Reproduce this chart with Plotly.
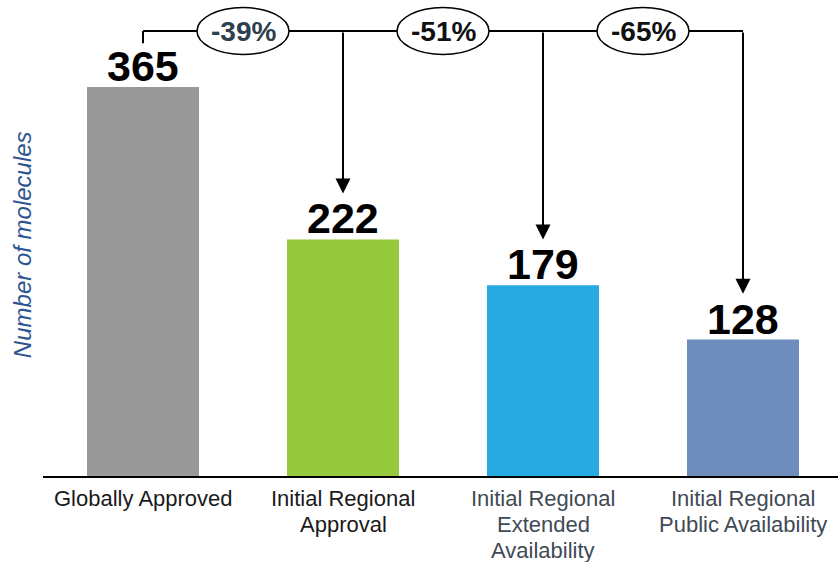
import plotly.graph_objects as go

categories = ["Globally Approved", "Initial Regional<br>Approval",
              "Initial Regional<br>Extended<br>Availability",
              "Initial Regional<br>Public Availability"]
values = [365, 222, 179, 128]
bar_colors = ["#999999", "#96c93d", "#27aae1", "#6d8dbd"]
label_colors = ["#1a1a1a", "#1a1a1a", "#3f4a54", "#3f4a54"]
pct_colors = ["#2e3f4d", "#111111", "#111111"]

FONT = "Liberation Sans, Arial, sans-serif"
x = list(range(len(values)))

fig = go.Figure()
fig.add_trace(go.Bar(
    x=x, y=values, width=0.56, marker=dict(color=bar_colors, line=dict(width=0)),
    hoverinfo="skip",
))

Y_TOP = 417.5      # connector line level (data units)
Y_MAX = 446.6
TIP_OFF = 43       # arrow tip distance above bar value
PLOT_H = 476       # plot area height in px

shapes = []
annotations = []

# value labels
for xi, v in zip(x, values):
    annotations.append(dict(x=xi, y=v, xref="x", yref="y", text=f"<b>{v}</b>",
                            showarrow=False, yanchor="bottom", yshift=-5,
                            font=dict(family=FONT, size=43, color="#000000")))

# connector horizontal line and left stub
shapes.append(dict(type="line", xref="x", yref="y", x0=0, x1=x[-1], y0=Y_TOP, y1=Y_TOP,
                   line=dict(color="#000000", width=2)))
shapes.append(dict(type="line", xref="x", yref="y", x0=0, x1=0, y0=Y_TOP, y1=values[0] + 41,
                   line=dict(color="#000000", width=2)))

# arrows
for xi, v in zip(x[1:], values[1:]):
    annotations.append(dict(x=xi, y=v + TIP_OFF, ax=xi, ay=Y_TOP, xref="x", yref="y",
                            axref="x", ayref="y", text="", showarrow=True,
                            arrowhead=2, arrowsize=1.5, arrowwidth=2, arrowcolor="#000000"))

# percentage ellipses
for i, (xi, v) in enumerate(zip(x[1:], values[1:])):
    pct = round((v / values[0] - 1) * 100)
    cx = xi - 0.5
    shapes.append(dict(type="circle", xref="x", yref="y", x0=cx - 0.23, x1=cx + 0.23,
                       y0=Y_TOP - 22, y1=Y_TOP + 22, fillcolor="#ffffff",
                       line=dict(color="#000000", width=1.5)))
    annotations.append(dict(x=cx, y=Y_TOP, xref="x", yref="y", text=f"<b>{pct}%</b>",
                            showarrow=False, font=dict(family=FONT, size=28, color=pct_colors[i])))

# category labels (one annotation per line for tighter line spacing)
for xi, cat, col in zip(x, categories, label_colors):
    for j, line in enumerate(cat.split("<br>")):
        py = 498 + 26 * j
        annotations.append(dict(x=xi, y=(PLOT_H - py) / PLOT_H, xref="x", yref="paper",
                                text=line, showarrow=False, xanchor="center", yanchor="middle",
                                font=dict(family=FONT, size=22, color=col)))

# y axis title
annotations.append(dict(x=(22 - 43) / 795, y=0.485, xref="paper", yref="paper",
                        text="<i>Number of molecules</i>",
                        showarrow=False, textangle=-90, xanchor="center", yanchor="middle",
                        font=dict(family=FONT, size=24, color="#2e5491")))

fig.update_layout(
    width=838, height=562,
    margin=dict(l=43, r=0, t=0, b=86, pad=0, autoexpand=False),
    paper_bgcolor="#ffffff", plot_bgcolor="#ffffff",
    showlegend=False,
    shapes=shapes, annotations=annotations,
    xaxis=dict(range=[-0.5, 3.475], tickvals=x, showticklabels=False, showgrid=False,
               zeroline=False, showline=True, linecolor="#000000", linewidth=2,
               automargin=False, ticks="", fixedrange=True),
    yaxis=dict(range=[0, Y_MAX], visible=False, showgrid=False, zeroline=False,
               automargin=False, fixedrange=True),
)

fig.write_html("out.html", config={"displayModeBar": False})
